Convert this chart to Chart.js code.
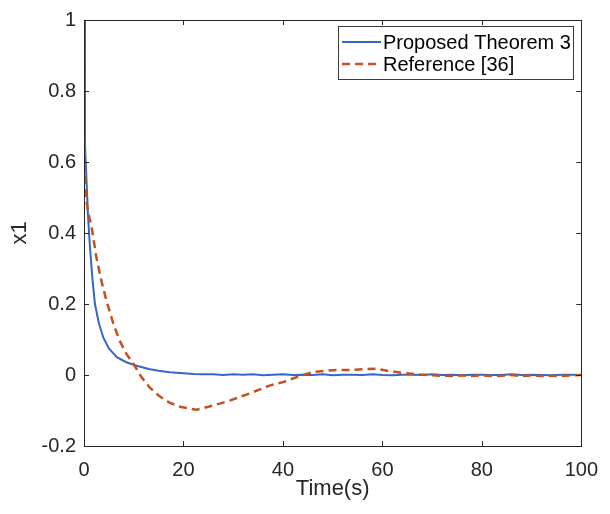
<!DOCTYPE html>
<html>
<head>
<meta charset="utf-8">
<script src="https://cdn.jsdelivr.net/npm/chart.js@4"></script>
<style>
  html, body { margin: 0; padding: 0; background: #fff; }
  #wrap { width: 610px; height: 514px; }
</style>
</head>
<body>
<div id="wrap"><canvas id="chart" width="610" height="514"></canvas></div>
<script>
// values
const blueTime = [0, 0.2, 0.5, 0.8, 1.2, 1.7, 2.2, 3, 3.9, 5, 6.6, 8.5, 10.6, 13, 15, 17.2, 20, 22, 24,
  26, 28, 30, 32, 34, 36, 38, 40, 42, 44, 46, 48, 50, 52, 54, 56, 58, 60, 62, 64,
  66, 68, 70, 72, 74, 76, 78, 80, 82, 84, 86, 88, 90, 92, 94, 96, 98, 100];
const blueX1 = [1, 0.65, 0.55, 0.45, 0.36, 0.27, 0.2, 0.145, 0.105, 0.075, 0.05, 0.036, 0.026, 0.017, 0.012, 0.008, 0.005, 0.003, 0.002,
  0.002, 0.000, 0.002, 0.001, 0.002, -0.001, 0.001, 0.002, 0.000, 0.001, 0.000, 0.002, -0.001, 0.001, 0.001, 0.000, 0.002, 0.000, -0.001, 0.001,
  0.001, 0.000, 0.002, 0.000, 0.001, -0.001, 0.001, 0.001, 0.000, 0.000, 0.002, 0.000, 0.001, 0.000, -0.001, 0.001, 0.001, 0.000];

const redTime = [0, 0.15, 0.4, 0.8, 1.5, 2.5, 3.5, 4.5, 6, 7.2, 8.5, 10.2, 11.5, 13.2, 15, 17.2, 19.5, 22.6, 26, 29.3,
  33.3, 37.3, 40, 42, 44, 46, 48.6, 51, 53.4, 56, 58.7, 61, 64, 67, 70,
  72, 74, 76, 78, 80, 82, 84, 86, 88, 90, 92, 94, 96, 98, 100];
const redX1 = [1, 0.6, 0.5, 0.46, 0.42, 0.33, 0.265, 0.21, 0.14, 0.096, 0.06, 0.026, -0.005, -0.035, -0.058, -0.078, -0.09, -0.098, -0.086, -0.072,
  -0.052, -0.03, -0.02, -0.01, 0.0, 0.008, 0.012, 0.014, 0.014, 0.016, 0.018, 0.012, 0.006, 0.002, -0.001,
  -0.002, -0.003, -0.001, -0.003, -0.001, -0.003, -0.002, 0.000, -0.003, -0.001, -0.003, -0.002, -0.003, -0.001, 0.000];

const seriesNames = ['Proposed Theorem 3', 'Reference [36]'];
const xTicks = [0, 20, 40, 60, 80, 100];
const yTicks = [-0.2, 0, 0.2, 0.4, 0.6, 0.8, 1];

const axisColor = '#262626';
const fontFamily = 'Arial, "Liberation Sans", Helvetica, sans-serif';

function toPoints(t, v) {
  return t.map((x, i) => ({ x: x, y: v[i] }));
}

// axes box, inward ticks on all four sides, and the legend box
const matlabAxes = {
  id: 'matlabAxes',
  afterDatasetsDraw(chart) {
    const { ctx, chartArea: a, scales } = chart;
    const len = 5;
    ctx.save();
    ctx.strokeStyle = axisColor;
    ctx.lineWidth = 1;
    ctx.beginPath();
    xTicks.forEach(v => {
      const px = Math.round(scales.x.getPixelForValue(v)) + 0.5;
      ctx.moveTo(px, a.bottom); ctx.lineTo(px, a.bottom - len);
      ctx.moveTo(px, a.top); ctx.lineTo(px, a.top + len);
    });
    yTicks.forEach(v => {
      const py = Math.round(scales.y.getPixelForValue(v)) + 0.5;
      ctx.moveTo(a.left, py); ctx.lineTo(a.left + len, py);
      ctx.moveTo(a.right, py); ctx.lineTo(a.right - len, py);
    });
    ctx.stroke();
    ctx.strokeRect(Math.round(a.left) + 0.5, Math.round(a.top) + 0.5,
      Math.round(a.right - a.left), Math.round(a.bottom - a.top));

    // legend
    const bx = 338.5, by = 26.5, bw = 235, bh = 53;
    ctx.fillStyle = '#fff';
    ctx.fillRect(bx, by, bw, bh);
    ctx.strokeStyle = '#3a3a3a';
    ctx.strokeRect(bx, by, bw, bh);
    ctx.font = '20px ' + fontFamily;
    ctx.textBaseline = 'middle';
    ctx.textAlign = 'left';
    chart.data.datasets.forEach((ds, i) => {
      const y = 42 + i * 22;
      ctx.beginPath();
      ctx.strokeStyle = ds.borderColor;
      ctx.lineWidth = ds.borderWidth;
      ctx.setLineDash(ds.borderDash || []);
      ctx.moveTo(342, y); ctx.lineTo(381, y);
      ctx.stroke();
      ctx.setLineDash([]);
      ctx.fillStyle = '#000';
      ctx.fillText(ds.label, 383, y + 1);
    });
    ctx.restore();
  }
};

new Chart(document.getElementById('chart'), {
  type: 'line',
  data: {
    datasets: [
      {
        label: seriesNames[0],
        data: toPoints(blueTime, blueX1),
        borderColor: '#3467c8',
        borderWidth: 2,
        pointRadius: 0,
        tension: 0,
        fill: false,
        order: 1
      },
      {
        label: seriesNames[1],
        data: toPoints(redTime, redX1),
        borderColor: '#c4511f',
        borderWidth: 2.5,
        borderDash: [8, 5],
        pointRadius: 0,
        tension: 0,
        fill: false,
        order: 0
      }
    ]
  },
  options: {
    responsive: false,
    animation: false,
    layout: { padding: { top: 16, right: 27, left: 0, bottom: 0 } },
    plugins: {
      legend: { display: false },
      tooltip: { enabled: false }
    },
    scales: {
      x: {
        type: 'linear',
        min: 0,
        max: 100,
        afterFit: s => { s.height = 68; },
        afterBuildTicks: s => { s.ticks = xTicks.map(v => ({ value: v })); },
        grid: { display: false, drawTicks: false },
        border: { display: false },
        ticks: {
          padding: 12,
          color: axisColor,
          font: { family: fontFamily, size: 20 },
          maxRotation: 0
        },
        title: {
          display: true,
          text: 'Time(s)',
          color: axisColor,
          font: { family: fontFamily, size: 22 },
          padding: { top: 0, bottom: 12 }
        }
      },
      y: {
        type: 'linear',
        min: -0.2,
        max: 1,
        afterFit: s => { s.width = 84; },
        afterBuildTicks: s => { s.ticks = yTicks.map(v => ({ value: v })); },
        grid: { display: false, drawTicks: false },
        border: { display: false },
        ticks: {
          padding: 8,
          color: axisColor,
          font: { family: fontFamily, size: 20 },
          callback: v => String(Math.round(v * 10) / 10)
        },
        title: {
          display: true,
          text: 'x1',
          color: axisColor,
          font: { family: fontFamily, size: 22 },
          padding: { top: 7, bottom: 0 }
        }
      }
    }
  },
  plugins: [matlabAxes]
});
</script>
</body>
</html>
